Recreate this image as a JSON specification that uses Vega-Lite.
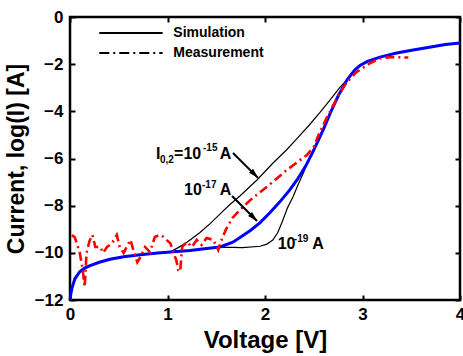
{
  "$schema": "https://vega.github.io/schema/vega-lite/v6.json",
  "width": 390,
  "height": 283,
  "autosize": {"type": "none"},
  "padding": {"left": 70, "top": 17, "right": 3, "bottom": 56},
  "background": "white",
  "config": {
    "view": {"stroke": "black", "strokeWidth": 2.5},
    "font": "Liberation Sans",
    "axis": {"grid": false}
  },
  "datasets": {
    "curves": [
      {"s": "sim15", "V": 0, "I": -12}, {"s": "sim15", "V": 0.01, "I": -11.7}, {"s": "sim15", "V": 0.02, "I": -11.5}, {"s": "sim15", "V": 0.05, "I": -11.1}, {"s": "sim15", "V": 0.1, "I": -10.8}, {"s": "sim15", "V": 0.15, "I": -10.65}, {"s": "sim15", "V": 0.2, "I": -10.55}, {"s": "sim15", "V": 0.3, "I": -10.4}, {"s": "sim15", "V": 0.41, "I": -10.27}, {"s": "sim15", "V": 0.55, "I": -10.17}, {"s": "sim15", "V": 0.72, "I": -10.08}, {"s": "sim15", "V": 0.9, "I": -10.01}, {"s": "sim15", "V": 1.03, "I": -9.96},
      {"s": "sim15", "V": 1.1, "I": -9.8}, {"s": "sim15", "V": 1.2, "I": -9.55}, {"s": "sim15", "V": 1.33, "I": -9.15}, {"s": "sim15", "V": 1.44, "I": -8.75}, {"s": "sim15", "V": 1.54, "I": -8.35}, {"s": "sim15", "V": 1.64, "I": -7.95}, {"s": "sim15", "V": 1.74, "I": -7.6}, {"s": "sim15", "V": 1.83, "I": -7.25}, {"s": "sim15", "V": 1.92, "I": -6.9}, {"s": "sim15", "V": 2.0, "I": -6.55}, {"s": "sim15", "V": 2.08, "I": -6.2}, {"s": "sim15", "V": 2.22, "I": -5.64}, {"s": "sim15", "V": 2.33, "I": -5.15}, {"s": "sim15", "V": 2.45, "I": -4.6}, {"s": "sim15", "V": 2.56, "I": -4.07}, {"s": "sim15", "V": 2.67, "I": -3.5}, {"s": "sim15", "V": 2.77, "I": -2.97}, {"s": "sim15", "V": 2.84, "I": -2.67}, {"s": "sim15", "V": 2.92, "I": -2.25}, {"s": "sim15", "V": 2.97, "I": -2.07}, {"s": "sim15", "V": 3.05, "I": -1.88}, {"s": "sim15", "V": 3.18, "I": -1.7}, {"s": "sim15", "V": 3.35, "I": -1.53}, {"s": "sim15", "V": 3.52, "I": -1.4}, {"s": "sim15", "V": 3.7, "I": -1.27}, {"s": "sim15", "V": 3.85, "I": -1.17}, {"s": "sim15", "V": 4.0, "I": -1.1},
      {"s": "sim19", "V": 0, "I": -12}, {"s": "sim19", "V": 0.01, "I": -11.7}, {"s": "sim19", "V": 0.02, "I": -11.5}, {"s": "sim19", "V": 0.05, "I": -11.1}, {"s": "sim19", "V": 0.1, "I": -10.8}, {"s": "sim19", "V": 0.15, "I": -10.65}, {"s": "sim19", "V": 0.2, "I": -10.55}, {"s": "sim19", "V": 0.3, "I": -10.4}, {"s": "sim19", "V": 0.41, "I": -10.27}, {"s": "sim19", "V": 0.55, "I": -10.17}, {"s": "sim19", "V": 0.72, "I": -10.08}, {"s": "sim19", "V": 0.9, "I": -10.01}, {"s": "sim19", "V": 1.03, "I": -9.96},
      {"s": "sim19", "V": 1.23, "I": -9.9}, {"s": "sim19", "V": 1.4, "I": -9.82}, {"s": "sim19", "V": 1.54, "I": -9.77}, {"s": "sim19", "V": 1.67, "I": -9.77}, {"s": "sim19", "V": 1.77, "I": -9.78}, {"s": "sim19", "V": 1.95, "I": -9.72}, {"s": "sim19", "V": 2.02, "I": -9.63}, {"s": "sim19", "V": 2.08, "I": -9.46}, {"s": "sim19", "V": 2.13, "I": -9.15}, {"s": "sim19", "V": 2.18, "I": -8.65}, {"s": "sim19", "V": 2.23, "I": -8.1}, {"s": "sim19", "V": 2.29, "I": -7.6}, {"s": "sim19", "V": 2.34, "I": -7.1}, {"s": "sim19", "V": 2.39, "I": -6.65}, {"s": "sim19", "V": 2.44, "I": -6.15}, {"s": "sim19", "V": 2.5, "I": -5.64}, {"s": "sim19", "V": 2.6, "I": -4.75}, {"s": "sim19", "V": 2.67, "I": -4.07}, {"s": "sim19", "V": 2.75, "I": -3.35}, {"s": "sim19", "V": 2.84, "I": -2.67}, {"s": "sim19", "V": 2.92, "I": -2.25}, {"s": "sim19", "V": 2.97, "I": -2.07}, {"s": "sim19", "V": 3.05, "I": -1.88}, {"s": "sim19", "V": 3.18, "I": -1.7}, {"s": "sim19", "V": 3.35, "I": -1.53}, {"s": "sim19", "V": 3.52, "I": -1.4}, {"s": "sim19", "V": 3.7, "I": -1.27}, {"s": "sim19", "V": 3.85, "I": -1.17}, {"s": "sim19", "V": 4.0, "I": -1.1},
      {"s": "sim17", "V": 0, "I": -12}, {"s": "sim17", "V": 0.01, "I": -11.7}, {"s": "sim17", "V": 0.02, "I": -11.5}, {"s": "sim17", "V": 0.05, "I": -11.1}, {"s": "sim17", "V": 0.1, "I": -10.8}, {"s": "sim17", "V": 0.15, "I": -10.65}, {"s": "sim17", "V": 0.2, "I": -10.55}, {"s": "sim17", "V": 0.3, "I": -10.4}, {"s": "sim17", "V": 0.41, "I": -10.27}, {"s": "sim17", "V": 0.55, "I": -10.17}, {"s": "sim17", "V": 0.72, "I": -10.08}, {"s": "sim17", "V": 0.9, "I": -10.01}, {"s": "sim17", "V": 1.03, "I": -9.96},
      {"s": "sim17", "V": 1.23, "I": -9.9}, {"s": "sim17", "V": 1.4, "I": -9.82}, {"s": "sim17", "V": 1.54, "I": -9.75}, {"s": "sim17", "V": 1.67, "I": -9.55}, {"s": "sim17", "V": 1.77, "I": -9.28}, {"s": "sim17", "V": 1.85, "I": -9.05}, {"s": "sim17", "V": 1.95, "I": -8.72}, {"s": "sim17", "V": 2.05, "I": -8.3}, {"s": "sim17", "V": 2.15, "I": -7.85}, {"s": "sim17", "V": 2.25, "I": -7.35}, {"s": "sim17", "V": 2.33, "I": -6.9}, {"s": "sim17", "V": 2.42, "I": -6.3}, {"s": "sim17", "V": 2.5, "I": -5.64}, {"s": "sim17", "V": 2.6, "I": -4.75}, {"s": "sim17", "V": 2.67, "I": -4.07}, {"s": "sim17", "V": 2.75, "I": -3.35}, {"s": "sim17", "V": 2.84, "I": -2.67}, {"s": "sim17", "V": 2.92, "I": -2.25}, {"s": "sim17", "V": 2.97, "I": -2.07}, {"s": "sim17", "V": 3.05, "I": -1.88}, {"s": "sim17", "V": 3.18, "I": -1.7}, {"s": "sim17", "V": 3.35, "I": -1.53}, {"s": "sim17", "V": 3.52, "I": -1.4}, {"s": "sim17", "V": 3.7, "I": -1.27}, {"s": "sim17", "V": 3.85, "I": -1.17}, {"s": "sim17", "V": 4.0, "I": -1.1}
    ],
    "meas": [
      {"V": 0.02, "I": -9.24}, {"V": 0.05, "I": -9.35}, {"V": 0.07, "I": -9.6}, {"V": 0.1, "I": -10.0}, {"V": 0.13, "I": -10.7}, {"V": 0.15, "I": -11.45}, {"V": 0.17, "I": -10.0}, {"V": 0.2, "I": -9.5}, {"V": 0.23, "I": -9.24}, {"V": 0.26, "I": -9.75}, {"V": 0.31, "I": -9.75}, {"V": 0.34, "I": -10.0}, {"V": 0.38, "I": -9.75}, {"V": 0.43, "I": -9.6}, {"V": 0.48, "I": -9.24}, {"V": 0.51, "I": -9.75}, {"V": 0.55, "I": -10.0}, {"V": 0.62, "I": -9.45}, {"V": 0.65, "I": -9.88}, {"V": 0.69, "I": -10.4}, {"V": 0.72, "I": -10.2}, {"V": 0.77, "I": -9.75}, {"V": 0.82, "I": -9.97}, {"V": 0.87, "I": -9.33}, {"V": 0.92, "I": -9.24}, {"V": 0.95, "I": -9.3}, {"V": 1.03, "I": -9.6}, {"V": 1.06, "I": -10.0}, {"V": 1.09, "I": -10.3}, {"V": 1.11, "I": -10.73}, {"V": 1.13, "I": -10.8}, {"V": 1.15, "I": -9.75}, {"V": 1.2, "I": -9.54}, {"V": 1.25, "I": -9.75}, {"V": 1.3, "I": -9.45}, {"V": 1.35, "I": -9.67}, {"V": 1.4, "I": -9.37}, {"V": 1.47, "I": -9.45}, {"V": 1.52, "I": -9.88}, {"V": 1.54, "I": -9.6}, {"V": 1.6, "I": -9.0}, {"V": 1.67, "I": -8.5}, {"V": 1.75, "I": -8.15}, {"V": 1.85, "I": -7.76}, {"V": 2.02, "I": -7.2}, {"V": 2.22, "I": -6.5}, {"V": 2.43, "I": -5.85}, {"V": 2.5, "I": -5.5}, {"V": 2.56, "I": -4.9}, {"V": 2.63, "I": -4.3}, {"V": 2.7, "I": -3.75}, {"V": 2.77, "I": -3.2}, {"V": 2.84, "I": -2.76}, {"V": 2.94, "I": -2.33}, {"V": 3.08, "I": -1.95}, {"V": 3.18, "I": -1.76}, {"V": 3.28, "I": -1.7}, {"V": 3.47, "I": -1.72}
    ],
    "legend": [
      {"style": "solid", "label": "Simulation", "V": 0.30, "V2": 0.95, "Vt": 1.06, "I": -0.68},
      {"style": "dashdot", "label": "Measurement", "V": 0.30, "V2": 0.95, "Vt": 1.06, "I": -1.53}
    ],
    "notes": [
      {"part": "main", "t": "I", "V": 0.882, "I": -6.021},
      {"part": "sub", "t": "0,2", "V": 0.923, "I": -6.19},
      {"part": "main", "t": "=10", "V": 1.067, "I": -6.021},
      {"part": "sup", "t": "-15", "V": 1.364, "I": -5.703},
      {"part": "main", "t": "A", "V": 1.535, "I": -6.021},
      {"part": "main", "t": "10", "V": 1.169, "I": -7.548},
      {"part": "sup", "t": "-17", "V": 1.354, "I": -7.251},
      {"part": "main", "t": "A", "V": 1.535, "I": -7.548},
      {"part": "main", "t": "10", "V": 2.13, "I": -9.838},
      {"part": "sup", "t": "-19", "V": 2.296, "I": -9.541},
      {"part": "main", "t": "A", "V": 2.485, "I": -9.838}
    ],
    "arrows": [
      {"V": 1.672, "I": -5.77, "V2": 1.928, "I2": -6.82, "Vh": 1.89, "Ih": -6.66},
      {"V": 1.662, "I": -7.59, "V2": 1.918, "I2": -8.65, "Vh": 1.88, "Ih": -8.49}
    ]
  },
  "layer": [
    {
      "data": {"name": "curves"},
      "transform": [{"filter": "datum.s !== 'sim17'"}],
      "mark": {"type": "line", "color": "black", "strokeWidth": 1.2},
      "encoding": {
        "x": {"field": "V", "type": "quantitative", "scale": {"domain": [0, 4], "nice": false, "zero": false},
          "axis": {"orient": "bottom", "title": "Voltage [V]", "values": [0, 1, 2, 3, 4], "format": "d",
            "domain": false, "tickColor": "black", "tickSize": -5, "tickWidth": 2,
            "labelFont": "Liberation Sans", "labelFontWeight": "bold", "labelFontSize": 17, "labelColor": "black", "labelPadding": 11,
            "labelFlush": false, "titleFont": "Liberation Sans", "titleFontWeight": "bold", "titleFontSize": 24, "titleColor": "black", "titlePadding": 6}},
        "y": {"field": "I", "type": "quantitative", "scale": {"domain": [-12, 0], "nice": false, "zero": false},
          "axis": {"orient": "left", "title": "Current, log(I) [A]", "values": [-12, -10, -8, -6, -4, -2, 0], "format": "d",
            "domain": false, "tickColor": "black", "tickSize": -5, "tickWidth": 2,
            "labelFont": "Liberation Sans", "labelFontWeight": "bold", "labelFontSize": 17, "labelColor": "black", "labelPadding": 12,
            "labelFlush": false, "titleFont": "Liberation Sans", "titleFontWeight": "bold", "titleFontSize": 23, "titleColor": "black", "titlePadding": 6}},
        "detail": {"field": "s"}
      }
    },
    {
      "data": {"name": "curves"},
      "transform": [{"filter": "datum.s === 'sim17'"}],
      "mark": {"type": "line", "color": "#0000ff", "strokeWidth": 3},
      "encoding": {
        "x": {"field": "V", "type": "quantitative",
          "axis": {"orient": "top", "title": null, "labels": false, "values": [0, 1, 2, 3, 4], "domain": false, "tickColor": "black", "tickSize": -5, "tickWidth": 2}},
        "y": {"field": "I", "type": "quantitative",
          "axis": {"orient": "right", "title": null, "labels": false, "values": [-12, -10, -8, -6, -4, -2, 0], "domain": false, "tickColor": "black", "tickSize": -5, "tickWidth": 2}}
      }
    },
    {
      "data": {"name": "meas"},
      "mark": {"type": "line", "color": "#ff0000", "strokeWidth": 2.6, "strokeDash": [9, 4, 2, 4]},
      "encoding": {
        "x": {"field": "V", "type": "quantitative", "axis": null},
        "y": {"field": "I", "type": "quantitative", "axis": null}
      }
    },
    {
      "data": {"name": "legend"},
      "transform": [{"filter": "datum.style === 'solid'"}],
      "mark": {"type": "rule", "color": "black", "strokeWidth": 2},
      "encoding": {
        "x": {"field": "V", "type": "quantitative", "axis": null},
        "x2": {"field": "V2"},
        "y": {"field": "I", "type": "quantitative", "axis": null}
      }
    },
    {
      "data": {"name": "legend"},
      "transform": [{"filter": "datum.style === 'dashdot'"}],
      "mark": {"type": "rule", "color": "black", "strokeWidth": 2, "strokeDash": [10, 4, 2, 4]},
      "encoding": {
        "x": {"field": "V", "type": "quantitative", "axis": null},
        "x2": {"field": "V2"},
        "y": {"field": "I", "type": "quantitative", "axis": null}
      }
    },
    {
      "data": {"name": "legend"},
      "mark": {"type": "text", "align": "left", "baseline": "middle", "font": "Liberation Sans", "fontWeight": "bold", "fontSize": 14, "color": "black"},
      "encoding": {
        "x": {"field": "Vt", "type": "quantitative", "axis": null},
        "y": {"field": "I", "type": "quantitative", "axis": null},
        "text": {"field": "label"}
      }
    },
    {
      "data": {"name": "notes"},
      "transform": [{"filter": "datum.part === 'main'"}],
      "mark": {"type": "text", "align": "left", "baseline": "alphabetic", "font": "Liberation Sans", "fontWeight": "bold", "fontSize": 16, "color": "black"},
      "encoding": {
        "x": {"field": "V", "type": "quantitative", "axis": null},
        "y": {"field": "I", "type": "quantitative", "axis": null},
        "text": {"field": "t"}
      }
    },
    {
      "data": {"name": "notes"},
      "transform": [{"filter": "datum.part !== 'main'"}],
      "mark": {"type": "text", "align": "left", "baseline": "alphabetic", "font": "Liberation Sans", "fontWeight": "bold", "fontSize": 10, "color": "black"},
      "encoding": {
        "x": {"field": "V", "type": "quantitative", "axis": null},
        "y": {"field": "I", "type": "quantitative", "axis": null},
        "text": {"field": "t"}
      }
    },
    {
      "data": {"name": "arrows"},
      "mark": {"type": "rule", "color": "black", "strokeWidth": 2},
      "encoding": {
        "x": {"field": "V", "type": "quantitative", "axis": null},
        "y": {"field": "I", "type": "quantitative", "axis": null},
        "x2": {"field": "V2"},
        "y2": {"field": "I2"}
      }
    },
    {
      "data": {"name": "arrows"},
      "mark": {"type": "point", "shape": "M0,-1L0.5,0.8L-0.5,0.8Z", "angle": 135, "filled": true, "color": "black", "size": 130, "opacity": 1},
      "encoding": {
        "x": {"field": "Vh", "type": "quantitative", "axis": null},
        "y": {"field": "Ih", "type": "quantitative", "axis": null}
      }
    }
  ],
  "resolve": {"axis": {"x": "independent", "y": "independent"}}
}
